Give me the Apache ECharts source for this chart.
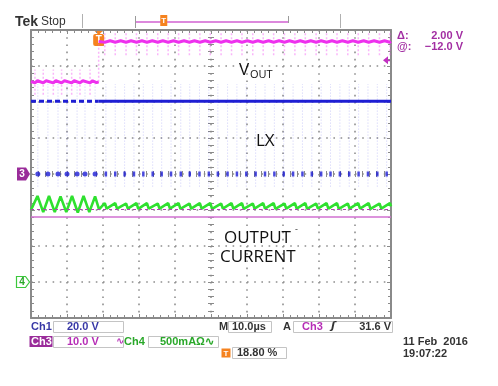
<!DOCTYPE html>
<html><head><meta charset="utf-8">
<script src="https://cdn.jsdelivr.net/npm/echarts@6/dist/echarts.min.js"></script>
<style>html,body{margin:0;padding:0;background:#fff}#c{width:498px;height:386px}</style>
</head><body><div id="c"></div>
<script>
// ---------- values ----------
// x in microseconds (10 µs/div, 10 div), y in divisions from screen centre (8 div)
const timeRange = [0, 100];
const divRange = [-4, 4];
const triggerTime = 18.8;     // 18.80 %
const triggerLevel = 3.16;    // Ch3 trigger level (31.6 V)
const ch3Ground = 0;
const ch4Ground = -3;

// Ch3 (VOUT, magenta)
const voutPre = [[0,2.57],[1.1,2.53],[1.8,2.59],[3.4,2.53],[4.2,2.59],[6.2,2.53],[6.9,2.59],[8.5,2.53],[9.3,2.59],[11.3,2.53],[12.0,2.59],[13.6,2.53],[14.4,2.59],[16.4,2.53],[17.1,2.59],[18.2,2.54],[18.8,2.56]];
const voutPost = [[18.8,3.68],[20.5,3.66],[22.0,3.70],[23.4,3.66],[24.9,3.70],[26.4,3.66],[27.8,3.70],[29.3,3.66],[30.8,3.70],[32.2,3.66],[33.7,3.70],[35.2,3.66],[36.6,3.70],[38.1,3.66],[39.6,3.70],[41.0,3.66],[42.5,3.70],[44.0,3.66],[45.4,3.70],[46.9,3.66],[48.4,3.70],[49.8,3.66],[51.3,3.70],[52.8,3.66],[54.2,3.70],[55.7,3.66],[57.2,3.70],[58.6,3.66],[60.1,3.70],[61.6,3.66],[63.0,3.70],[64.5,3.66],[66.0,3.70],[67.4,3.66],[68.9,3.70],[70.4,3.66],[71.8,3.70],[73.3,3.66],[74.8,3.70],[76.2,3.66],[77.7,3.70],[79.2,3.66],[80.6,3.70],[82.1,3.66],[83.6,3.70],[85.0,3.66],[86.5,3.70],[88.0,3.66],[89.4,3.70],[90.9,3.66],[92.4,3.70],[93.8,3.66],[95.3,3.70],[96.8,3.66],[98.2,3.70],[99.7,3.66],[100,3.68]];
const voutSpikePre = [1.1,3.4,6.2,8.5,11.3,13.6,16.4];
const voutSpikePost = [20.5,23.4,26.4,29.3,32.2,35.2,38.1,41.0,44.0,46.9,49.8,52.8,55.7,58.6,61.6,64.5,67.4,70.4,73.3,76.2,79.2,82.1,85.0,88.0,90.9,93.8,96.8,99.7];
const voutSpikeRangePre = [2.2, 2.9];
const voutSpikeRangePost = [3.3, 3.95];
const voutStep = [2.56, 3.68];

// Ch1 (LX, blue)
const lxHigh = 2.02;
const lxLow = 0;
const lxLowPre = [1.9,4.7,7.5,10.0,12.8,15.0,17.8];
const lxLowPost = [20.8,23.4,26.0,28.6,31.2,33.8,36.3,38.9,41.6,44.1,46.8,49.4,51.9,54.6,57.2,59.8,62.4,65.0,67.6,70.2,72.8,75.4,78.0,80.6,83.2,85.8,88.4,91.0,93.6,96.2,98.8];
const lxEdgeRange = [-0.35, 2.5];

// Ch4 (output current, green)
const currentTrace = [[0,-1.0],[1.8,-0.61],[3.4,-1.06],[5.0,-0.61],[6.6,-1.06],[8.2,-0.62],[9.8,-1.06],[11.4,-0.61],[13.0,-1.07],[14.6,-0.61],[16.2,-1.06],[17.8,-0.62],[18.9,-0.98],
 [20.5,-0.81],[21.0,-0.96],[23.4,-0.81],[23.9,-0.96],[26.4,-0.82],[26.9,-0.96],[29.3,-0.81],[29.8,-0.97],[32.2,-0.81],[32.7,-0.96],[35.2,-0.82],[35.7,-0.96],[38.1,-0.81],[38.6,-0.96],[41.0,-0.81],[41.5,-0.97],[44.0,-0.82],[44.5,-0.96],[46.9,-0.81],[47.4,-0.96],[49.8,-0.81],[50.3,-0.97],[52.8,-0.82],[53.3,-0.96],[55.7,-0.81],[56.2,-0.96],[58.6,-0.81],[59.1,-0.97],[61.6,-0.82],[62.1,-0.96],[64.5,-0.81],[65.0,-0.96],[67.4,-0.81],[67.9,-0.97],[70.4,-0.82],[70.9,-0.96],[73.3,-0.81],[73.8,-0.96],[76.2,-0.81],[76.7,-0.97],[79.2,-0.82],[79.7,-0.96],[82.1,-0.81],[82.6,-0.96],[85.0,-0.81],[85.5,-0.97],[88.0,-0.82],[88.5,-0.96],[90.9,-0.81],[91.4,-0.96],[93.8,-0.81],[94.3,-0.97],[96.8,-0.82],[97.3,-0.96],[99.7,-0.81],[100,-0.9]];
const refSolidLevel = -1.19;
const refDashedLevel = -0.98;

// text
const traceLabels = { vout: 'V', voutSub: 'OUT', lx: 'LX', cur1: 'OUTPUT', cur2: 'CURRENT' };
const status = { ch1: 'Ch1', ch1Scale: '20.0 V', ch3: 'Ch3', ch3Scale: '10.0 V', ch4: 'Ch4', ch4Scale: '500mAΩ∿',
  timebase: '10.0µs', trigSrc: 'Ch3', trigLevel: '31.6 V', trigPos: '18.80 %', date: '11 Feb  2016', time: '19:07:22',
  delta: '2.00 V', at: '−12.0 V' };

// ---------- chart ----------
const FRAME = '#8a8a8a', DOT = '#8f8f8f';
const MAG = '#ee30ee', BLUE = '#1e1ed4', GREEN = '#2fe02f', PURP = '#a22ea2', ORANGE = '#f5821f', DARK = '#333333';
const G = { left: 31, top: 30, width: 360, height: 288 };

function segs(times, range) {
  const out = [];
  times.forEach(t => { out.push([t, range[0]], [t, range[1]], [t, '-']); });
  return out;
}
function frameAxis(pos, range, interval, split) {
  return {
    type: 'value', gridIndex: 0, position: pos, min: range[0], max: range[1], interval: interval,
    axisLine: { show: true, onZero: false, lineStyle: { color: FRAME, width: 2 } },
    axisTick: { show: true, inside: true, length: 4, lineStyle: { color: FRAME, width: 1 } },
    minorTick: { show: true, splitNumber: 5, length: 3, lineStyle: { color: FRAME, width: 1 } },
    axisLabel: { show: false },
    splitLine: { show: split, lineStyle: { color: DOT, width: 1.6, type: [1.6, 5.6] } },
    minorSplitLine: { show: false }
  };
}
function centreAxis(pos, range) {
  return {
    type: 'value', gridIndex: 1, position: pos, min: range[0], max: range[1], interval: 1,
    axisLine: { show: true, onZero: true, lineStyle: { color: FRAME, opacity: 0 } },
    axisTick: { show: true, inside: true, length: 3, lineStyle: { color: FRAME, width: 1 } },
    minorTick: { show: true, splitNumber: 5, length: 3, lineStyle: { color: FRAME, width: 1 } },
    axisLabel: { show: false }, splitLine: { show: false }
  };
}

const chart = echarts.init(document.getElementById('c'), null, { renderer: 'canvas' });
const option = {
  animation: false,
  backgroundColor: '#ffffff',
  grid: [Object.assign({ show: false }, G), Object.assign({ show: false }, G)],
  xAxis: [
    frameAxis('bottom', timeRange, 10, true),
    frameAxis('top', timeRange, 10, false),
    centreAxis('bottom', [-5, 5]),
    centreAxis('top', [-5, 5])
  ],
  yAxis: [
    frameAxis('left', divRange, 1, true),
    frameAxis('right', divRange, 1, false),
    centreAxis('left', divRange),
    centreAxis('right', divRange)
  ],
  series: [
    { type: 'line', name: 'LX edges', data: segs(lxLowPre.concat(lxLowPost), lxEdgeRange), symbol: 'none', silent: true,
      lineStyle: { color: 'rgba(50,50,230,0.25)', width: 1, type: [1, 2] } },
    { type: 'line', name: 'VOUT spikes', data: segs(voutSpikePre, voutSpikeRangePre).concat(segs(voutSpikePost, voutSpikeRangePost)).concat(segs([triggerTime], voutStep)),
      symbol: 'none', silent: true, lineStyle: { color: 'rgba(240,70,240,0.4)', width: 1.5, type: [2, 2] } },
    { type: 'line', name: 'Output current', data: currentTrace, symbol: 'none', silent: true,
      lineStyle: { color: GREEN, width: 2.6 },
      markLine: { silent: true, symbol: 'none', label: { show: false }, animation: false,
        data: [
          { yAxis: refSolidLevel, lineStyle: { color: '#d070d0', width: 1.6, type: 'solid' } },
          { yAxis: refDashedLevel, lineStyle: { color: '#b040b0', width: 1, type: [3, 3] } }
        ] } },
    { type: 'line', name: 'LX high pre', data: [[timeRange[0], lxHigh], [triggerTime, lxHigh]], symbol: 'none', silent: true,
      lineStyle: { color: BLUE, width: 3, type: [5, 3] } },
    { type: 'line', name: 'LX high post', data: [[triggerTime, lxHigh], [timeRange[1], lxHigh]], symbol: 'none', silent: true,
      lineStyle: { color: BLUE, width: 3 } },
    { type: 'scatter', name: 'LX low pre', data: lxLowPre.map(t => [t, lxLow]), symbol: 'circle', symbolSize: 5, silent: true,
      itemStyle: { color: BLUE } },
    { type: 'scatter', name: 'LX low post', data: lxLowPost.map(t => [t, lxLow]), symbol: 'rect', symbolSize: [2.5, 5], silent: true,
      itemStyle: { color: BLUE } },
    { type: 'line', name: 'VOUT pre', data: voutPre, symbol: 'none', silent: true, lineStyle: { color: MAG, width: 3 } },
    { type: 'line', name: 'VOUT post', data: voutPost, symbol: 'none', silent: true, lineStyle: { color: MAG, width: 3 } }
  ]
};
chart.setOption(option);

function T(text, x, y, font, fill, align) {
  return { type: 'text', silent: true, style: { text: text, x: x, y: y, font: font, fill: fill,
    align: align || 'left', textAlign: align || 'left', verticalAlign: 'middle', textVerticalAlign: 'middle' } };
}
function box(x, y, w, h) {
  return { type: 'rect', silent: true, shape: { x: x, y: y, width: w, height: h }, style: { fill: 'none', stroke: '#c4c4c4', lineWidth: 1 } };
}
function L(x1, y1, x2, y2, c, w) {
  return { type: 'line', silent: true, shape: { x1: x1, y1: y1, x2: x2, y2: y2 }, style: { stroke: c, lineWidth: w } };
}
const B = 'bold 11px "Liberation Sans", Arial, sans-serif';
const LBL = '17px "Open Sans", "Noto Sans", sans-serif';

const trigPx = chart.convertToPixel({ gridIndex: 0 }, [triggerTime, divRange[1]]);
const lvlPx = chart.convertToPixel({ gridIndex: 0 }, [timeRange[1], triggerLevel]);
const c3Px = chart.convertToPixel({ gridIndex: 0 }, [timeRange[0], ch3Ground]);
const c4Px = chart.convertToPixel({ gridIndex: 0 }, [timeRange[0], ch4Ground]);
const barL = 135, barR = 288;
const barT = barL + (barR - barL) * (triggerTime - timeRange[0]) / (timeRange[1] - timeRange[0]);

const graphics = [
  // header
  T('Tek', 15, 22, 'bold 14px "Liberation Sans", Arial, sans-serif', DARK),
  T('Stop', 41, 22, '12px "Liberation Sans", Arial, sans-serif', DARK),
  L(82.5, 14, 82.5, 28, '#b0b0b0', 1),
  L(340.5, 14, 340.5, 28, '#b0b0b0', 1),
  L(barL, 22, barR, 22, '#d060d0', 1.5),
  L(barL + 0.5, 16, barL + 0.5, 28, '#9a9a9a', 1),
  L(barR + 0.5, 16, barR + 0.5, 23, '#9a9a9a', 1),
  { type: 'polygon', silent: true, shape: { points: [[barT - 3.5, 15], [barT + 3.5, 15], [barT + 3.5, 26], [barT - 3.5, 26]] }, style: { fill: ORANGE } },
  T('T', barT, 21, 'bold 8px "Liberation Sans", sans-serif', '#fff', 'center'),
  // trigger marker on top of graticule
  { type: 'polygon', silent: true, shape: { points: [[trigPx[0] - 5, 30], [trigPx[0] + 5, 30], [trigPx[0], 35]] }, style: { fill: ORANGE } },
  { type: 'rect', silent: true, shape: { x: trigPx[0] - 5.5, y: 34, width: 11, height: 12, r: 2 }, style: { fill: ORANGE } },
  T('T', trigPx[0], 40.5, 'bold 10px "Liberation Sans", sans-serif', '#fff', 'center'),
  // trigger level arrow (right)
  { type: 'polygon', silent: true, shape: { points: [[lvlPx[0] - 8, lvlPx[1]], [lvlPx[0] - 3, lvlPx[1] - 4], [lvlPx[0] - 3, lvlPx[1] + 4]] }, style: { fill: '#c030c0' } },
  L(lvlPx[0] - 4, lvlPx[1], lvlPx[0] - 1, lvlPx[1], '#c030c0', 2),
  // channel ground markers
  { type: 'polygon', silent: true, shape: { points: [[17, c3Px[1] - 6.5], [26, c3Px[1] - 6.5], [30, c3Px[1]], [26, c3Px[1] + 6.5], [17, c3Px[1] + 6.5]] }, style: { fill: '#9a2c9a' } },
  T('3', 22, c3Px[1] + 0.5, 'bold 10px "Liberation Sans", sans-serif', '#fff', 'center'),
  { type: 'polygon', silent: true, shape: { points: [[16.5, c4Px[1] - 5.5], [25.5, c4Px[1] - 5.5], [29.5, c4Px[1]], [25.5, c4Px[1] + 5.5], [16.5, c4Px[1] + 5.5]] }, style: { fill: '#fff', stroke: '#3cc83c', lineWidth: 1.2 } },
  T('4', 22, c4Px[1] + 0.5, 'bold 10px "Liberation Sans", sans-serif', '#2aa82a', 'center'),
  // right readout
  T('Δ:', 397, 35.5, B, PURP),
  T(status.delta, 463, 35.5, B, PURP, 'right'),
  T('@:', 397, 46.5, B, PURP),
  T(status.at, 463, 46.5, B, PURP, 'right'),
  // trace labels
  T(traceLabels.vout, 239, 70, LBL, '#111'),
  T(traceLabels.voutSub, 250, 75, '11px "Open Sans", "Noto Sans", sans-serif', '#111'),
  T(traceLabels.lx, 256, 141, LBL, '#111'),
  T(traceLabels.cur1, 224, 238, LBL, '#111'),
  T(traceLabels.cur2, 220, 257, LBL, '#111'),
  T('-', 295, 229, '9px "Open Sans", sans-serif', '#333'),
  // status bar row 1
  T(status.ch1, 31, 326.5, B, '#3838a6'),
  box(53.5, 321.5, 70, 11),
  T(status.ch1Scale, 67, 326.5, B, '#3838a6'),
  T('M', 219, 326.5, B, DARK),
  box(228.5, 321.5, 43, 11),
  T(status.timebase, 232, 326.5, B, DARK),
  T('A', 283, 326.5, B, DARK),
  box(293.5, 321.5, 99, 11),
  T(status.trigSrc, 302, 326.5, B, '#b62db6'),
  T('ʃ', 331, 326.5, 'bold italic 11px "DejaVu Sans", sans-serif', DARK),
  T(status.trigLevel, 391, 326.5, B, DARK, 'right'),
  // row 2
  { type: 'rect', silent: true, shape: { x: 29.5, y: 336, width: 23, height: 11 }, style: { fill: '#9a2c9a' } },
  T(status.ch3, 31, 341.5, B, '#fff'),
  box(53.5, 336.5, 70, 11),
  T(status.ch3Scale, 67, 341.5, B, '#b62db6'),
  T('∿', 116, 341.5, 'bold 10px "DejaVu Sans", sans-serif', '#b62db6'),
  T(status.ch4, 124, 341.5, B, '#2aa82a'),
  box(148.5, 336.5, 70, 11),
  T(status.ch4Scale, 160, 341.5, B, '#2aa82a'),
  // row 3
  { type: 'rect', silent: true, shape: { x: 221.5, y: 348.5, width: 9, height: 9 }, style: { fill: ORANGE } },
  T('T', 226, 353.5, 'bold 8px "Liberation Sans", sans-serif', '#fff', 'center'),
  box(232.5, 347.5, 54, 11),
  T(status.trigPos, 237, 353, B, DARK),
  // date/time
  T(status.date, 403, 342, B, DARK),
  T(status.time, 403, 353.5, B, DARK)
];
chart.setOption({ graphic: graphics });
</script>
</body></html>
